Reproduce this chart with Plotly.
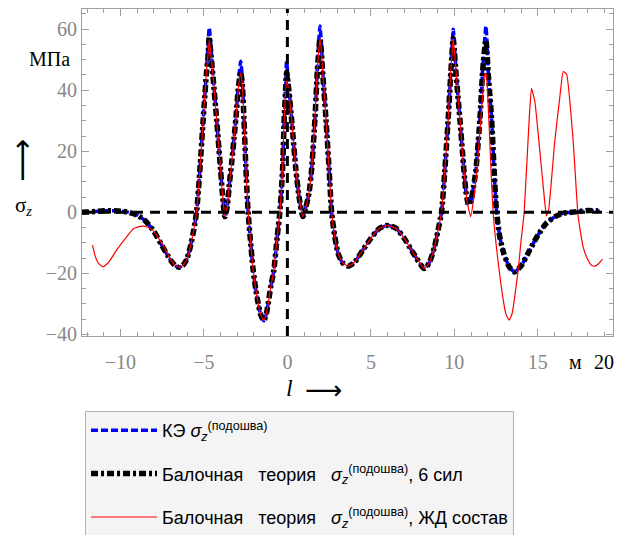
import plotly.graph_objects as go

# Stress under the sleeper base along the track, MPa
# columns: position l (m), FE model, beam theory with 6 forces
fe_beam6 = [
    (-12.3, 0.0, 0.0), (-12.0, 0.1, 0.1), (-11.5, 0.3, 0.3), (-11.0, 0.5, 0.5),
    (-10.5, 0.5, 0.5), (-10.0, 0.4, 0.4), (-9.5, 0.0, 0.0), (-9.0, -0.9, -0.9),
    (-8.5, -2.8, -2.8), (-8.0, -6.2, -6.2), (-7.5, -11.0, -11.0), (-7.0, -15.6, -15.6),
    (-6.7, -17.6, -17.6), (-6.45, -18.0, -18.0), (-6.2, -17.0, -17.0), (-6.0, -15.0, -15.0),
    (-5.8, -11.0, -11.0), (-5.6, -5.5, -5.5), (-5.44, 0.0, 0.0), (-5.24, 13.9, 13.9),
    (-5.04, 30.6, 30.6), (-4.84, 46.7, 46.0), (-4.75, 55.0, 51.0), (-4.68, 60.5, 57.5),
    (-4.6, 56.0, 53.0), (-4.48, 46.7, 46.0), (-4.24, 30.6, 30.6), (-4.0, 13.9, 13.9),
    (-3.88, 5.5, 5.5), (-3.74, -1.4, -1.4), (-3.6, 2.0, 2.0), (-3.46, 10.0, 10.0),
    (-3.34, 16.0, 16.0), (-3.2, 24.0, 24.0), (-3.08, 31.0, 31.0), (-2.95, 41.2, 40.0),
    (-2.8, 49.5, 46.0), (-2.7, 44.0, 42.0), (-2.6, 30.6, 30.6), (-2.48, 13.9, 13.9),
    (-2.35, 0.0, 0.0), (-2.2, -10.0, -10.0), (-2.05, -18.9, -18.9), (-1.9, -25.0, -25.0),
    (-1.75, -29.8, -29.8), (-1.6, -33.5, -33.5), (-1.41, -35.5, -35.5), (-1.25, -33.0, -33.0),
    (-1.15, -29.8, -29.8), (-1.0, -24.5, -24.5), (-0.81, -18.9, -18.9), (-0.61, -8.0, -8.0),
    (-0.45, 0.0, 0.0), (-0.29, 13.9, 13.9), (-0.19, 30.6, 30.6), (-0.1, 42.0, 41.0),
    (-0.05, 49.5, 46.0), (0.05, 44.0, 42.0), (0.25, 30.6, 30.6), (0.51, 13.9, 13.9),
    (0.7, 5.0, 5.0), (0.93, -1.4, -1.4), (1.1, 1.5, 1.5), (1.3, 6.5, 6.5),
    (1.45, 13.9, 13.9), (1.65, 30.6, 30.6), (1.79, 46.7, 46.0), (1.88, 56.0, 53.0),
    (1.95, 61.0, 57.0), (2.03, 56.0, 53.0), (2.11, 46.7, 46.0), (2.31, 30.6, 30.6),
    (2.5, 13.9, 13.9), (2.65, 0.0, 0.0), (2.84, -8.0, -8.0), (3.04, -13.5, -13.5),
    (3.3, -16.5, -16.5), (3.64, -17.6, -17.6), (4.0, -16.5, -16.5), (4.5, -12.5, -12.5),
    (5.0, -8.5, -8.5), (5.5, -5.3, -5.3), (5.98, -4.3, -4.3), (6.5, -5.2, -5.2),
    (7.0, -8.5, -8.5), (7.5, -13.0, -13.0), (8.2, -18.4, -18.4), (8.5, -16.5, -16.5),
    (8.8, -11.5, -11.5), (9.0, -6.5, -6.5), (9.23, 0.0, 0.0), (9.43, 13.9, 13.9),
    (9.63, 30.6, 30.6), (9.79, 46.7, 46.0), (9.87, 55.0, 53.0), (9.93, 60.0, 57.0),
    (10.0, 55.0, 53.0), (10.09, 46.7, 46.0), (10.33, 30.6, 30.6), (10.57, 13.9, 13.9),
    (10.7, 6.5, 6.5), (10.85, 2.4, 2.4), (11.0, 4.0, 4.0), (11.15, 8.5, 8.5),
    (11.29, 13.9, 13.9), (11.53, 30.6, 30.6), (11.69, 46.7, 46.0), (11.8, 55.0, 53.0),
    (11.89, 61.0, 56.5), (11.96, 55.0, 52.0), (12.02, 46.7, 46.0), (12.23, 30.6, 30.6),
    (12.38, 13.9, 13.9), (12.53, 0.0, 0.0), (12.72, -8.0, -8.0), (12.96, -13.5, -13.5),
    (13.3, -18.0, -18.0), (13.6, -19.5, -19.5), (14.0, -17.5, -17.5), (14.5, -12.5, -12.5),
    (15.0, -7.5, -7.5), (15.5, -3.6, -3.6), (16.0, -1.5, -1.5), (16.5, -0.3, -0.3),
    (17.0, 0.0, 0.0), (17.5, 0.3, 0.3), (18.0, 0.6, 0.6), (18.5, 0.5, 0.5),
    (18.7, 0.4, 0.4),
]
l_m = [row[0] for row in fe_beam6]
sigma_fe = [row[1] for row in fe_beam6]
sigma_beam6 = [row[2] for row in fe_beam6]

# Beam theory under the full train load
train = [
    (-11.67, -10.7), (-11.5, -14.5), (-11.3, -16.8), (-11.03, -17.8), (-10.7, -16.3),
    (-10.23, -12.4), (-9.63, -8.0), (-9.2, -5.3), (-8.73, -4.5), (-8.4, -4.8),
    (-8.04, -6.0), (-7.75, -8.2), (-7.44, -10.8), (-7.0, -15.4), (-6.7, -17.4),
    (-6.45, -18.0), (-6.2, -17.0), (-6.0, -15.0), (-5.8, -11.0), (-5.6, -5.5),
    (-5.44, 0.0), (-5.24, 13.9), (-5.04, 30.6), (-4.84, 46.7), (-4.75, 52.0),
    (-4.68, 56.5), (-4.6, 52.5), (-4.48, 46.7), (-4.24, 30.6), (-4.0, 13.9),
    (-3.88, 5.5), (-3.74, -1.4), (-3.6, 2.0), (-3.46, 10.0), (-3.34, 16.0),
    (-3.2, 24.0), (-3.08, 31.0), (-2.95, 40.0), (-2.8, 45.6), (-2.7, 42.0),
    (-2.6, 30.6), (-2.48, 13.9), (-2.35, 0.0), (-2.2, -10.0), (-2.05, -18.9),
    (-1.9, -25.0), (-1.75, -29.8), (-1.6, -33.5), (-1.41, -35.5), (-1.25, -33.0),
    (-1.15, -29.8), (-1.0, -24.5), (-0.81, -18.9), (-0.61, -8.0), (-0.45, 0.0),
    (-0.29, 13.9), (-0.19, 30.6), (-0.1, 40.0), (-0.05, 43.4), (0.05, 41.0),
    (0.25, 30.6), (0.51, 13.9), (0.7, 5.0), (0.93, -1.4), (1.1, 1.5),
    (1.3, 6.5), (1.45, 13.9), (1.65, 30.6), (1.79, 46.7), (1.88, 53.0),
    (1.95, 57.0), (2.03, 53.0), (2.11, 46.7), (2.31, 30.6), (2.5, 13.9),
    (2.65, 0.0), (2.84, -8.0), (3.04, -13.5), (3.3, -16.5), (3.64, -17.6),
    (4.0, -16.5), (4.5, -12.5), (5.0, -8.5), (5.5, -5.3), (5.98, -4.3),
    (6.5, -5.2), (7.0, -8.5), (7.5, -13.0), (8.2, -18.4), (8.5, -16.5),
    (8.8, -11.5), (9.0, -6.5), (9.23, 0.0), (9.43, 13.9), (9.63, 30.6),
    (9.79, 46.7), (9.87, 53.0), (9.93, 57.0), (10.0, 53.0), (10.09, 46.7),
    (10.33, 30.6), (10.57, 13.9), (10.75, 4.0), (10.97, -1.4), (11.15, 4.0),
    (11.35, 14.0), (11.55, 28.0), (11.72, 40.0), (11.83, 45.6), (11.92, 45.0),
    (12.0, 38.0), (12.1, 26.0), (12.2, 13.0), (12.32, 0.0), (12.5, -10.5),
    (12.68, -18.9), (12.96, -29.8), (13.1, -33.5), (13.28, -35.3), (13.45, -33.3),
    (13.56, -29.8), (13.82, -18.9), (14.0, -9.0), (14.18, 0.0), (14.48, 30.6),
    (14.62, 40.6), (14.82, 36.3), (15.12, 20.0), (15.4, 4.0), (15.52, -1.2),
    (15.65, 1.0), (16.02, 23.7), (16.3, 37.0), (16.52, 46.1), (16.72, 45.3),
    (17.11, 23.7), (17.41, -1.2), (17.71, -11.3), (18.0, -15.6), (18.21, -17.3),
    (18.41, -17.6), (18.6, -17.0), (18.87, -15.3),
]
l_train = [p[0] for p in train]
sigma_train = [p[1] for p in train]

x_ticks = [-10, -5, 0, 5, 10, 15]
y_ticks = [-40, -20, 0, 20, 40, 60]
x_range = [-12.3, 19.5]
y_range = [-40.5, 66.6]

W, H = 619, 535
ML, MR, MT, MB = 82, 6, 9, 199
PW, PH = W - ML - MR, H - MT - MB


def px(xp):
    return (xp - ML) / PW


def py(yp):
    return (H - MB - yp) / PH


SERIF = "Liberation Serif, Times New Roman, serif"
SANS = "Liberation Sans, Arial, sans-serif"
SIG = "<i>σ</i><sub><i>z</i></sub><sup>(подошва)</sup>"
NB = "\u00a0"

fig = go.Figure()
fig.add_trace(go.Scatter(
    x=l_m, y=sigma_fe, mode="lines", name="КЭ " + SIG, legendgroup="a",
    line=dict(color="#0000ff", width=3.5, dash="7px,3px", shape="spline", smoothing=0.6),
))
fig.add_trace(go.Scatter(
    x=l_m, y=sigma_beam6, mode="lines", legendgroup="b",
    name="Балочная" + NB * 3 + "теория" + NB * 3 + SIG + ", 6 сил",
    line=dict(color="#000000", width=5.5, dash="7px,3px,3px,3px", shape="spline", smoothing=0.6),
))
fig.add_trace(go.Scatter(
    x=l_train, y=sigma_train, mode="lines", legendgroup="c",
    name="Балочная" + NB * 3 + "теория" + NB * 3 + SIG + ", ЖД" + NB + "состав",
    line=dict(color="#ff0000", width=1.2, shape="spline", smoothing=0.4),
))

# dashed coordinate axes through the origin
fig.add_shape(type="line", xref="x", yref="y", x0=x_range[0], x1=x_range[1], y0=0, y1=0,
              line=dict(color="black", width=3, dash="10px,7px"))
fig.add_shape(type="line", xref="x", yref="y", x0=0, x1=0, y0=y_range[0], y1=y_range[1],
              line=dict(color="black", width=3, dash="10px,7px"))

frame = "#a0a0a0"
axis_common = dict(
    showline=True, linecolor=frame, linewidth=1, mirror="ticks", ticks="inside",
    ticklen=7, tickcolor=frame, tickwidth=1, showgrid=False, zeroline=False,
    tickfont=dict(family=SERIF, size=20, color="#888888"),
)
fig.update_xaxes(range=x_range, tickvals=x_ticks, ticklabelstandoff=8,
                 minor=dict(dtick=1, tick0=0, ticks="inside", ticklen=4, tickcolor=frame),
                 **axis_common)
fig.update_yaxes(range=y_range, tickvals=y_ticks,
                 minor=dict(dtick=5, tick0=0, ticks="inside", ticklen=4, tickcolor=frame),
                 **axis_common)

ann = [
    dict(text="МПа", x=px(49), y=py(59), font=dict(family=SERIF, size=20, color="black")),
    dict(text="⟶", x=px(22), y=py(161), textangle=-90,
         font=dict(family="DejaVu Sans", size=30, color="black")),
    dict(text="σ<sub><i>z</i></sub>", x=px(23), y=py(206), font=dict(family=SERIF, size=21, color="black")),
    dict(text="<i>l</i>", x=px(289), y=py(388), font=dict(family=SERIF, size=24, color="black")),
    dict(text="⟶", x=px(323), y=py(390), font=dict(family="DejaVu Sans", size=26, color="black")),
    dict(text="м", x=px(575), y=py(362), font=dict(family=SERIF, size=20, color="black")),
    dict(text="20", x=px(604), y=py(362), font=dict(family=SERIF, size=20, color="black")),
]
for a in ann:
    a.update(xref="paper", yref="paper", showarrow=False, xanchor="center", yanchor="middle")
    fig.add_annotation(**a)

fig.update_layout(
    width=W, height=H,
    margin=dict(l=ML, r=MR, t=MT, b=MB, autoexpand=False),
    paper_bgcolor="white", plot_bgcolor="white",
    showlegend=True,
    legend=dict(
        x=px(85), y=py(411), xanchor="left", yanchor="top",
        bgcolor="#f4f4f4", bordercolor="#b4b4b4", borderwidth=1,
        font=dict(family=SANS, size=18, color="black"),
        tracegroupgap=17, itemwidth=66,
    ),
)

fig.write_html("out.html")
